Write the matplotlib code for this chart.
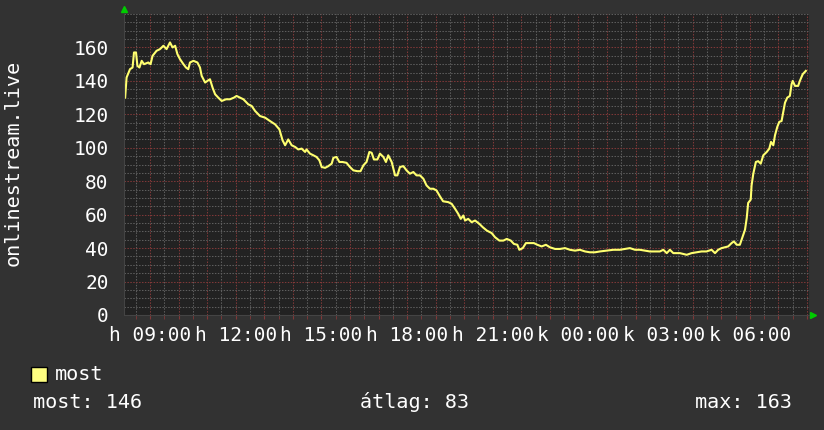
import numpy as np
import matplotlib
matplotlib.use('Agg')
import matplotlib.pyplot as plt
from matplotlib.ticker import MultipleLocator

# hours since monday 00:00
hours = [8.13, 8.18, 8.30, 8.39, 8.44, 8.51, 8.56, 8.63, 8.71, 8.79, 8.94, 9.02, 9.09,
         9.23, 9.35, 9.47, 9.58, 9.70, 9.79, 9.88, 9.96, 10.05, 10.17, 10.26, 10.34,
         10.40, 10.52, 10.66, 10.75, 10.81, 10.93, 11.01, 11.10, 11.19, 11.28, 11.39,
         11.51, 11.66, 11.80, 11.94, 12.03, 12.15, 12.27, 12.44, 12.56, 12.68, 12.85,
         13.03, 13.20, 13.38, 13.53, 13.64, 13.73, 13.84, 13.96, 14.08, 14.19, 14.31,
         14.43, 14.48, 14.60, 14.72, 14.83, 14.93, 15.01, 15.13, 15.24, 15.36, 15.42,
         15.53, 15.63, 15.74, 15.88, 16.00, 16.12, 16.26, 16.37, 16.47, 16.58, 16.68,
         16.76, 16.84, 16.96, 17.05, 17.17, 17.26, 17.34, 17.46, 17.58, 17.66, 17.75,
         17.87, 17.98, 18.10, 18.22, 18.33, 18.45, 18.57, 18.68, 18.80, 18.92, 19.03,
         19.15, 19.26, 19.44, 19.56, 19.68, 19.79, 19.88, 19.97, 20.03, 20.14, 20.26,
         20.38, 20.53, 20.65, 20.79, 20.96, 21.08, 21.23, 21.37, 21.49, 21.63, 21.74,
         21.86, 21.93, 22.05, 22.16, 22.30, 22.44, 22.56, 22.71, 22.86, 23.00, 23.18,
         23.35, 23.53, 23.70, 23.88, 24.05, 24.23, 24.40, 24.58, 24.75, 24.99, 25.22,
         25.45, 25.63, 25.80, 25.98, 26.15, 26.33, 26.50, 26.68, 26.85, 26.97, 27.09,
         27.20, 27.32, 27.55, 27.79, 27.96, 28.13, 28.31, 28.48, 28.66, 28.78, 28.89,
         29.01, 29.13, 29.24, 29.36, 29.44, 29.54, 29.65, 29.75, 29.83, 29.89, 29.94,
         30.03, 30.06, 30.12, 30.21, 30.29, 30.38, 30.47, 30.59, 30.68, 30.74, 30.82,
         30.88, 30.96, 31.03, 31.11, 31.17, 31.23, 31.31, 31.40, 31.46, 31.50, 31.58,
         31.69, 31.75, 31.85, 31.96]
most = [130, 142, 147, 148, 157, 157, 149, 148, 152, 150, 151, 150, 155,
        158, 159, 161, 159, 163, 160, 161, 156, 153, 150, 148, 147,
        151, 152, 151, 148, 143, 139, 140, 141, 136, 132, 130,
        128, 129, 129, 130, 131, 130, 129, 126, 125, 122, 119,
        118, 116, 114, 111, 104.5, 101.5, 105, 101.5, 100.5, 99, 99.5,
        97.5, 99, 96.5, 95.5, 94.5, 92.5, 88.5, 88, 89, 90.5, 94,
        94.5, 91.5, 91.5, 91, 88.5, 86.5, 86, 86, 89.5, 91.5, 97.5,
        97, 93, 93, 96.5, 94.5, 91.5, 95.5, 91.5, 83.5, 83.5, 88.5,
        89, 86.5, 84.5, 85.5, 83.5, 83.5, 81.5, 77.5, 75.5, 75.5, 74.5,
        71, 68, 67.5, 66.5, 63.5, 60.5, 57.5, 59.5, 56.5, 57.5, 55.5,
        56.5, 54.5, 52.5, 50.5, 49, 46.5, 44.5, 44.5, 45.5, 44.5, 42.5,
        42, 39, 40, 43, 43, 43, 42, 41, 42, 40.5, 39.5,
        39.5, 40, 39, 38.5, 39, 38, 37.5, 37.5, 38, 38.5, 39,
        39, 39.5, 40, 39, 39, 38.5, 38, 38, 38, 39, 37,
        39, 37, 37, 36, 37, 37.5, 38, 38, 39, 37, 39,
        40, 40.5, 41, 43, 44, 42, 42, 47, 51, 58, 67,
        69, 77.5, 84.5, 91.5, 92, 90.5, 95.5, 97.5, 99.5, 103.5, 101.5,
        107.5, 112.5, 115.5, 116, 121.5, 127, 130, 131, 138, 140, 137,
        137, 140, 144, 146]

tick_hours = [9, 12, 15, 18, 21, 24, 27, 30]
tick_labels = ['h 09:00', 'h 12:00', 'h 15:00', 'h 18:00', 'h 21:00',
               'k 00:00', 'k 03:00', 'k 06:00']

bg = '#323232'
plotbg = '#222222'
fnt = 'DejaVu Sans Mono'
dots = (0, (1.4, 1.4))

fig = plt.figure(figsize=(8.24, 4.30), dpi=100, facecolor=bg)
ax = fig.add_axes([124/824, 115/430, 685/824, 301/430])
ax.set_facecolor(plotbg)

ax.set_xlim(8.09, 32.07)
ax.set_ylim(0, 180)

# every hour a red line, labels every 3 hours
all_hours = np.arange(9, 32.5, 1)
ax.set_xticks(all_hours)
ax.set_xticklabels([tick_labels[tick_hours.index(h)] if h in tick_hours else ''
                    for h in all_hours])
ax.xaxis.set_minor_locator(MultipleLocator(0.5))
ax.yaxis.set_major_locator(MultipleLocator(20))
ax.yaxis.set_minor_locator(MultipleLocator(5))
ax.set_yticks(range(0, 180, 20))

ax.grid(which='minor', color='#5e5e5e', linestyle=dots, linewidth=0.75)
ax.grid(which='major', color='#803838', linestyle=dots, linewidth=0.75)
ax.set_axisbelow(True)

ax.plot(hours, most, color='#ffff70', linewidth=1.5)

for s in ['top', 'right']:
    ax.spines[s].set_visible(False)
for s in ['left', 'bottom']:
    ax.spines[s].set_color('#444444')

ax.tick_params(axis='both', which='both', colors='#803838', length=3, direction='out')
ax.tick_params(axis='y', which='both', length=0, pad=11)
ax.tick_params(axis='x', which='major', pad=5)
for lab in ax.get_xticklabels() + ax.get_yticklabels():
    lab.set_color('white')
    lab.set_fontfamily(fnt)
    lab.set_fontsize(14)

# green arrows at the axis ends
ax.plot([8.09], [183], marker='^', color='#00cc00', markersize=5, clip_on=False)
ax.plot([32.2], [0], marker='>', color='#00cc00', markersize=5, clip_on=False)

fig.text(13/824, 1 - 163/430, 'onlinestream.live', rotation=90, color='white',
         fontfamily=fnt, fontsize=14.5, ha='center', va='center')

# legend
fig.patches.append(plt.Rectangle((31/824, 1 - 382/430), 16/824, 15/430,
                                 transform=fig.transFigure, facecolor='#ffff80',
                                 edgecolor='black', linewidth=1))
fig.text(55/824, 1 - 374/430, 'most', color='white', fontfamily=fnt, fontsize=14.5,
         va='center', ha='left')
fig.text(33/824, 1 - 402/430, 'most: %d' % round(most[-1]), color='white',
         fontfamily=fnt, fontsize=14.5, va='center', ha='left')
fig.text(360/824, 1 - 402/430, 'átlag: 83', color='white',
         fontfamily=fnt, fontsize=14.5, va='center', ha='left')
fig.text(792/824, 1 - 402/430, 'max: %d' % round(max(most)), color='white',
         fontfamily=fnt, fontsize=14.5, va='center', ha='right')

fig.savefig('out.png', dpi=100, facecolor=bg)
